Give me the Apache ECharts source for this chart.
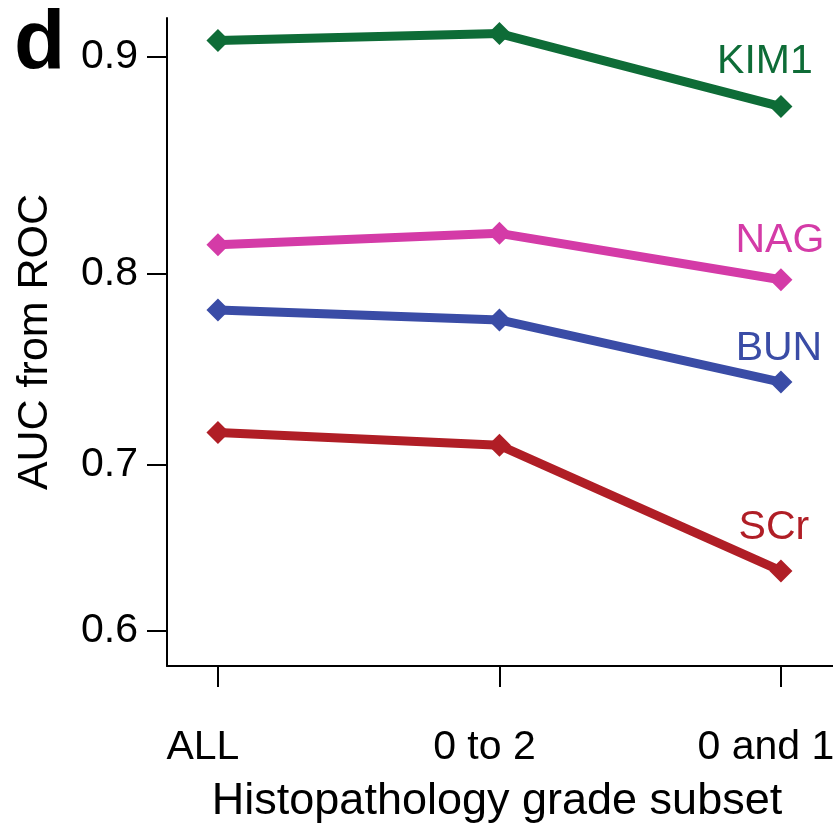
<!DOCTYPE html>
<html lang="en">
<head>
    <meta charset="UTF-8">
    <title>AUC from ROC</title>
    <script src="https://cdn.jsdelivr.net/npm/echarts@6/dist/echarts.min.js"></script>
    <style>
      html, body { margin: 0; padding: 0; background: #fff; }
      #main { width: 833px; height: 833px; }
    </style>
</head>
<body>
<div id="main"></div>
<script>
    // subsets on the x axis
    let subsets = ['ALL', '0 to 2', '0 and 1'];
    // AUC values
    let kim1 = [0.907, 0.910, 0.878];
    let nag  = [0.814, 0.8195, 0.797];
    let bun  = [0.782, 0.777, 0.745];
    let scr  = [0.718, 0.711, 0.638];
    let yTicks = [0.6, 0.7, 0.8, 0.9];

    // the y axis of the original is not linear: it behaves like AUC squared
    function tr(v) { return v * v; }

    var font = 'Liberation Sans, Arial, sans-serif';

    function makeSeries(name, values, color, labelOffset) {
        return {
            name: name,
            type: 'line',
            symbol: 'diamond',
            symbolSize: 23,
            lineStyle: { width: 9, color: color },
            itemStyle: { color: color },
            data: values.map((v, i) => {
                let item = { value: [i, tr(v)] };
                if (i == values.length - 1) {
                    item.label = {
                        show: true,
                        formatter: name,
                        position: 'top',
                        offset: labelOffset,
                        color: color,
                        fontSize: 41,
                        fontFamily: font
                    };
                }
                return item;
            }),
            z: 3
        };
    }

    var myChart = echarts.init(document.getElementById('main'));
    var option = {
        animation: false,
        grid: { left: 167, right: 0, top: 18, bottom: 167, outerBoundsMode: 'none', containLabel: false },
        graphic: [{
            type: 'text',
            left: 14,
            top: 4,
            style: { text: 'd', font: 'bold 84px ' + font, fill: '#000' }
        }],
        xAxis: {
            type: 'value',
            min: -0.181,
            max: 2.185,
            name: 'Histopathology grade subset',
            nameLocation: 'middle',
            nameGap: 113,
            nameMoveOverlap: false,
            nameTextStyle: { fontSize: 45, fontFamily: font, color: '#000', padding: [0, 6, 0, 0] },
            axisLine: { onZero: false, lineStyle: { color: '#000', width: 2 } },
            axisTick: { show: true, length: 21, lineStyle: { color: '#000', width: 2 }, customValues: [0, 1, 2] },
            axisLabel: {
                customValues: [0, 1, 2],
                formatter: v => subsets[Math.round(v)],
                fontSize: 41,
                fontFamily: font,
                color: '#000',
                margin: 61,
                padding: [0, 30, 0, 0]
            },
            splitLine: { show: false }
        },
        yAxis: {
            type: 'value',
            min: 0.3326,
            max: 0.8403,
            name: 'AUC from ROC',
            nameLocation: 'middle',
            nameGap: 110,
            nameMoveOverlap: false,
            nameTextStyle: { fontSize: 43, fontFamily: font, color: '#000' },
            axisLine: { show: true, onZero: false, lineStyle: { color: '#000', width: 2 } },
            axisTick: { show: true, length: 20, lineStyle: { color: '#000', width: 2 }, customValues: yTicks.map(tr) },
            axisLabel: {
                customValues: yTicks.map(tr),
                formatter: v => Math.sqrt(v).toFixed(1),
                fontSize: 41,
                fontFamily: font,
                color: '#000',
                margin: 29
            },
            splitLine: { show: false }
        },
        series: [
            makeSeries('KIM1', kim1, '#0e6c37', [-16, -8]),
            makeSeries('NAG', nag, '#d43ba7', [-1, -2]),
            makeSeries('BUN', bun, '#3a4ca6', [-2, 4]),
            makeSeries('SCr', scr, '#b01e26', [-7, -6])
        ]
    };
    myChart.setOption(option);
</script>
</body>
</html>
